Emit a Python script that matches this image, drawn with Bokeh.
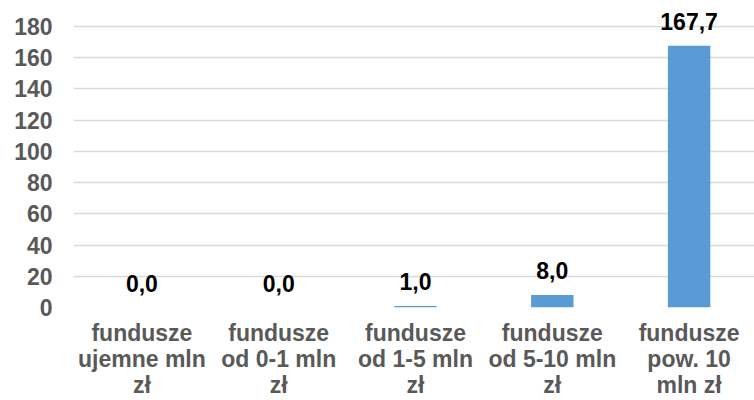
from bokeh.plotting import figure
from bokeh.models import ColumnDataSource, Range1d, FixedTicker, LabelSet
from bokeh.core.properties import value
from bokeh.embed import file_html
from bokeh.resources import INLINE

categories = [
    "fundusze\nujemne mln\nzł",
    "fundusze\nod 0-1 mln\nzł",
    "fundusze\nod 1-5 mln\nzł",
    "fundusze\nod 5-10 mln\nzł",
    "fundusze\npow. 10\nmln zł",
]
values = [0.0, 0.0, 1.0, 8.0, 167.7]
value_labels = ["0,0", "0,0", "1,0", "8,0", "167,7"]
y_ticks = [0, 20, 40, 60, 80, 100, 120, 140, 160, 180]

FONT = "Liberation Sans"
xs = list(range(len(categories)))
src = ColumnDataSource(dict(x=xs, top=values, lab=value_labels))

p = figure(width=754, height=400, output_backend="svg", toolbar_location=None,
           x_range=Range1d(-0.5, 4.478), y_range=Range1d(0, 190.2),
           min_border_left=73, min_border_right=0, min_border_top=10, min_border_bottom=93)
p.outline_line_color = None
p.background_fill_color = "white"
p.border_fill_color = "white"

p.vbar(x="x", top="top", width=0.31, bottom=0, source=src,
       fill_color="#5B9BD5", line_color=None)

labels = LabelSet(x="x", y="top", text="lab", source=src, text_align="center",
                  text_baseline="alphabetic", y_offset=16,
                  text_font=value(FONT), text_font_style="bold", text_font_size="23px",
                  text_color="#000000")
p.add_layout(labels)

p.xgrid.grid_line_color = None
p.ygrid.grid_line_color = "#D9D9D9"
p.ygrid.grid_line_width = 1.5
p.yaxis.ticker = FixedTicker(ticks=y_ticks)
p.xaxis.ticker = FixedTicker(ticks=xs)
p.xaxis.major_label_overrides = {i: c for i, c in zip(xs, categories)}

for ax in (p.xaxis[0], p.yaxis[0]):
    ax.axis_line_color = None
    ax.major_tick_line_color = None
    ax.minor_tick_line_color = None
    ax.major_tick_in = 0
    ax.major_tick_out = 0
    ax.major_label_text_font = FONT
    ax.major_label_text_font_style = "bold"
    ax.major_label_text_font_size = "23px"
    ax.major_label_text_color = "#595959"
p.xaxis.major_label_text_line_height = 1.0
p.yaxis.major_label_standoff = 21
p.xaxis.major_label_standoff = 12

open("out.html", "w").write(file_html(p, INLINE))
